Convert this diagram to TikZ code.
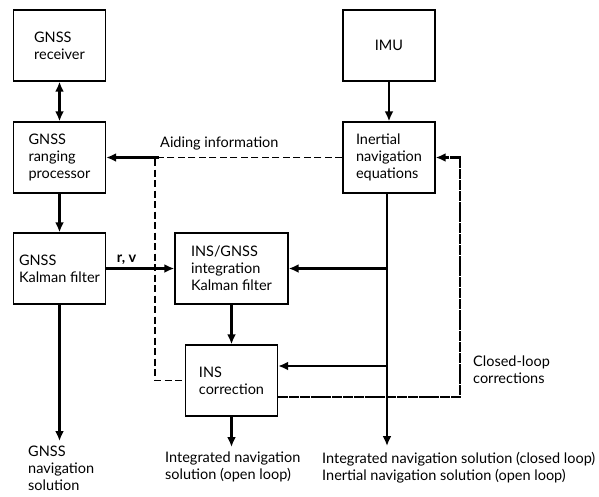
\documentclass[tikz,border=0pt]{standalone}
\usepackage{fontspec}
\setmainfont{Lato}
\usetikzlibrary{arrows.meta}

\tikzset{
  box/.style={draw, line width=1.4pt, minimum width=92pt, minimum height=71pt,
    align=left, inner sep=0pt},
  flow/.style={line width=2.8pt, -{Latex[length=10pt,width=9pt]}},
  aid/.style={line width=1.4pt, dash pattern=on 7pt off 3.5pt},
  loopcorr/.style={line width=2.8pt, dash pattern=on 10pt off 0.8pt,
    -{Latex[length=10pt,width=9pt]}},
  lbl/.style={align=left, inner sep=0pt, anchor=north west}
}

\begin{document}
\begin{tikzpicture}[x=1pt,y=-1pt,font=\fontsize{14.5}{17}\selectfont]
\useasboundingbox (0,0) rectangle (599,496);

      % blocks
      \node[box] (rcv) at (59.5,45.5)  {GNSS\\receiver};
      \node[box] (rng) at (59.5,157.5) {GNSS\\ranging\\processor};
      \node[box] (gkf) at (59.5,268.5) {GNSS\\Kalman filter};
      \node[box] (imu) at (389,45.5)   {IMU};
      \node[box] (ine) at (389,157.5)  {Inertial\\navigation\\equations};
      \node[box, minimum width=113pt] (ikf) at (231.5,268.5) {INS/GNSS\\integration\\Kalman filter};
      \node[box] (cor) at (231.5,380.5) {INS\\correction};

      % outputs
      \node[lbl] (gsol) at (28,446)  {GNSS\\navigation\\solution};
      \node[lbl] (osol) at (165,452) {Integrated navigation\\solution (open loop)};
      \node[lbl] (csol) at (322,452) {Integrated navigation solution (closed loop)\\Inertial navigation solution (open loop)};
      \node[lbl] (cltxt) at (473,356) {Closed-loop\\corrections};
      \node[anchor=base west, inner sep=0pt] (aidtxt) at (160,147) {Aiding information};

      \coordinate (gend) at (59.5,441);
      \coordinate (oend) at (231.5,447);
      \coordinate (iend) at (387,446);
      \coordinate (br1)  at (387,268.5);
      \coordinate (br2)  at (387,366);
      \coordinate (clx)  at (460,397);
      \coordinate (aidx) at (155,157.5);

      % main flow
      \draw[flow, {Latex[length=10pt,width=9pt]}-{Latex[length=10pt,width=9pt]}] (rcv) -- (rng);
      \draw[flow] (rng) -- (gkf);
      \draw[flow] (gkf.south) -- (gend);
      \draw[flow] (gkf.east) -- node[above, pos=0.3, inner sep=3pt] {\textbf{r, v}} (ikf.west);
      \draw[flow] (ikf) -- (cor);
      \draw[flow] (cor.south) -- (oend);
      \draw[flow] (imu) -- (ine);
      \draw[flow] (ine.south -| iend) -- (iend);
      \draw[flow] (br1) -- (ikf.east);
      \draw[flow] (br2) -- (cor.east |- br2);

      % aiding information
      \draw[aid] (ine.west) -- (aidx) -- (aidx |- cor.west) -- (cor.west);
      \draw[flow] ([xshift=4pt]aidx) -- (rng.east);

      % closed-loop corrections
      \draw[loopcorr] (cor.east |- clx) -- (clx) -- (clx |- ine.east) -- (ine.east);

    \end{tikzpicture}
\end{document}
